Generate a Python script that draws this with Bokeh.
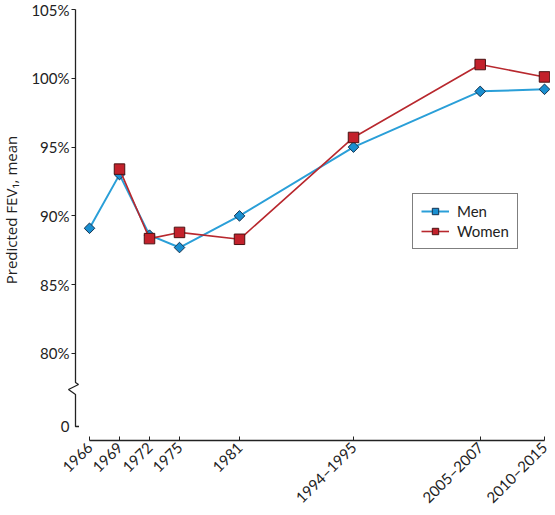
import numpy as np
from bokeh.plotting import figure
from bokeh.models import (FixedTicker, PrintfTickFormatter, Range1d, Legend, LegendItem)
from bokeh.core.properties import value
from bokeh.embed import file_html
from bokeh.resources import INLINE

# ---- data ----
surveys = ["1966", "1969", "1972", "1975", "1981", "1994–1995", "2005–2007", "2010–2015"]
x_pos = [1966, 1969, 1972, 1975, 1981, 1992.4, 2005.07, 2011.5]   # plotted year position
men = [89.1, 93.0, 88.6, 87.7, 90.0, 95.0, 99.05, 99.2]
women = [np.nan, 93.4, 88.35, 88.8, 88.3, 95.7, 101.0, 100.1]
y_ticks = [80, 85, 90, 95, 100, 105]

FONT = "Lato"
TITLE_FONT = "Open Sans"
TXT = "#222222"
BLUE_LINE = "#2a9fd8"
BLUE_FILL = "#1a8fd0"
BLUE_EDGE = "#13324f"
RED_LINE = "#b8282e"
RED_FILL = "#c3212b"
RED_EDGE = "#4a1212"

# ranges (frame covers the whole figure; axes are placed at fixed locations)
X_START, X_END = 1957.1, 2012.1
Y_START, Y_END = 68.735, 105.654
Y_AXIS_X = 1964.6      # where the y axis sits
X_AXIS_Y = 73.677      # where the x axis sits
Y_ZERO = 74.695        # position of the "0" tick below the break
Y_LABEL_LOW = 75.86    # lower end of the y axis span used to centre its title
BRK = [77.892, 77.747, 77.384, 77.020]

p = figure(width=550, height=508, output_backend="svg", toolbar_location=None,
           x_range=Range1d(X_START, X_END), y_range=Range1d(Y_START, Y_END),
           min_border_left=0, min_border_right=0, min_border_top=0, min_border_bottom=0)
p.outline_line_color = None
p.grid.visible = False
p.background_fill_color = "white"
p.border_fill_color = "white"

# x axis
xa = p.xaxis[0]
xa.fixed_location = X_AXIS_Y
xa.ticker = FixedTicker(ticks=x_pos)
xa.major_label_overrides = {x: s for x, s in zip(x_pos, surveys)}
xa.bounds = (x_pos[0], x_pos[-1])
xa.axis_line_color = TXT
xa.axis_line_width = 1.3
xa.major_tick_line_color = TXT
xa.major_tick_in = 4
xa.major_tick_out = 0
xa.minor_tick_line_color = None
xa.major_label_orientation = np.pi / 4
xa.major_label_standoff = 4
xa.major_label_text_font = FONT
xa.major_label_text_font_size = "15px"
xa.major_label_text_color = TXT

# y axis (its line is drawn below, with the break)
ya = p.yaxis[0]
ya.fixed_location = Y_AXIS_X
ya.ticker = FixedTicker(ticks=y_ticks)
ya.formatter = PrintfTickFormatter(format="%d%%")
ya.bounds = (Y_LABEL_LOW, y_ticks[-1])
ya.axis_line_color = None
ya.major_tick_line_color = TXT
ya.major_tick_out = 4
ya.major_tick_in = 0
ya.minor_tick_line_color = None
ya.major_label_standoff = 2
ya.major_label_text_font = FONT
ya.major_label_text_font_size = "15px"
ya.major_label_text_color = TXT
ya.axis_label = "Predicted FEV₁, mean"
ya.axis_label_text_font = TITLE_FONT
ya.axis_label_text_font_size = "15px"
ya.axis_label_text_font_style = "normal"
ya.axis_label_text_color = TXT
ya.axis_label_standoff = 7

# y axis line with break and the "0" tick
x0 = Y_AXIS_X
p.line([x0, x0, x0 + 0.3, x0 - 0.7, x0, x0, x0 + 0.35],
       [y_ticks[-1], BRK[0], BRK[1], BRK[2], BRK[3], Y_ZERO, Y_ZERO],
       line_color=TXT, line_width=1.3)
p.text(x=[x0], y=[Y_ZERO], text=["0"], x_offset=-6, text_align="right",
       text_baseline="middle", text_font=value(FONT), text_font_size="15px",
       text_color=TXT)

# series
ml = p.line(x_pos, men, line_color=BLUE_LINE, line_width=2)
mp = p.scatter(x_pos, men, marker="square", angle=np.pi / 4, size=7.5,
               fill_color=BLUE_FILL, line_color=BLUE_EDGE, line_width=1)
wl = p.line(x_pos, women, line_color=RED_LINE, line_width=1.6)
wp = p.scatter(x_pos, women, marker="square", size=10.5,
               fill_color=RED_FILL, line_color=RED_EDGE, line_width=1)

legend = Legend(items=[LegendItem(label="Men", renderers=[ml, mp]),
                       LegendItem(label="Women", renderers=[wl, wp])],
                location=(412, 259))
legend.border_line_color = "black"
legend.border_line_width = 1
legend.background_fill_color = "white"
legend.background_fill_alpha = 1
legend.label_text_font = FONT
legend.label_text_font_size = "15px"
legend.label_text_color = TXT
legend.glyph_width = 28
legend.glyph_height = 16
legend.label_height = 16
legend.label_standoff = 8
legend.spacing = 2
legend.padding = 8
legend.margin = 0
p.add_layout(legend)

open("out.html", "w").write(file_html(p, INLINE))
